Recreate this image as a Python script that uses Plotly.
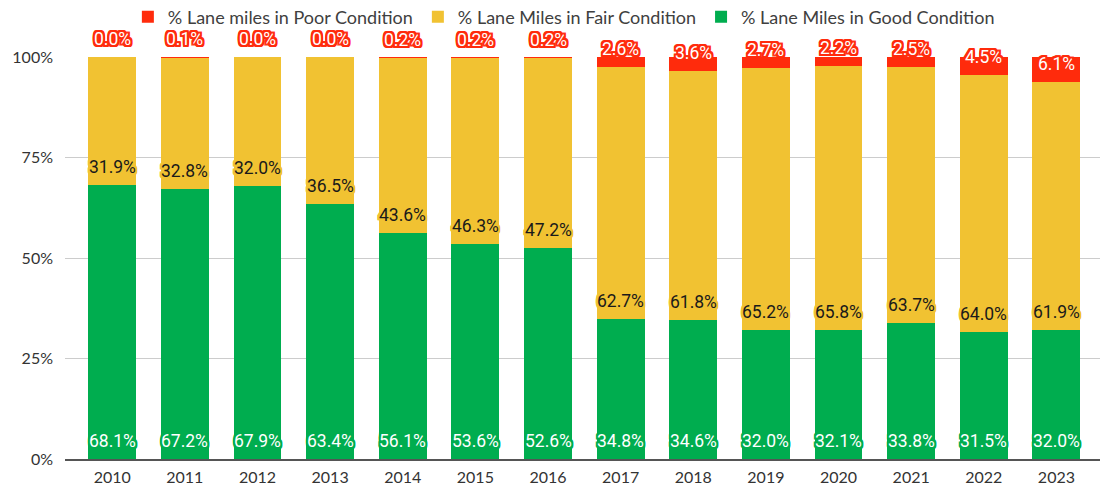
import numpy as np
import plotly.graph_objects as go

years = ["2010", "2011", "2012", "2013", "2014", "2015", "2016",
         "2017", "2018", "2019", "2020", "2021", "2022", "2023"]
good = [68.1, 67.2, 67.9, 63.4, 56.1, 53.6, 52.6, 34.8, 34.6, 32.0, 32.1, 33.8, 31.5, 32.0]
fair = [31.9, 32.8, 32.0, 36.5, 43.6, 46.3, 47.2, 62.7, 61.8, 65.2, 65.8, 63.7, 64.0, 61.9]
poor = [0.0, 0.1, 0.0, 0.0, 0.2, 0.2, 0.2, 2.6, 3.6, 2.7, 2.2, 2.5, 4.5, 6.1]

GREEN = "#00AD4F"
YELLOW = "#F1C232"
RED = "#FF2B0C"


def halo(c, w=2):
    # fake text outline with stacked css shadows
    parts = []
    for dx in range(-w, w + 1):
        for dy in range(-w, w + 1):
            if dx or dy:
                parts.append(f"{dx}px {dy}px 0 {c}")
    return ", ".join(parts)


fig = go.Figure()
for name, vals, col in [
    ("% Lane Miles in Good Condition", good, GREEN),
    ("% Lane Miles in Fair Condition", fair, YELLOW),
    ("% Lane miles in Poor Condition", poor, RED),
]:
    fig.add_trace(go.Bar(x=years, y=vals, name=name, marker_color=col,
                         marker_line_width=0, hoverinfo="skip"))

# labels sit at the base of each segment (normalised to 100%)
g = np.array(good)
f = np.array(fair)
p = np.array(poor)
tot = g + f + p
bases = [
    (np.zeros(len(g)), g, "white", GREEN),
    (g / tot * 100, f, "#1a1a1a", YELLOW),
    ((g + f) / tot * 100, p, "white", RED),
]
for base, vals, fc, hc in bases:
    for i, (b, v) in enumerate(zip(base, vals)):
        fig.add_annotation(
            x=i, y=float(b), text=f"{v:.1f}%", showarrow=False,
            yanchor="middle", yshift=18,
            font=dict(family="Roboto", size=17.5, color=fc, shadow=halo(hc)),
        )

fig.update_layout(
    barmode="stack",
    barnorm="percent",
    bargap=0.34,
    width=1104,
    height=487,
    margin=dict(l=65, r=4, t=57, b=28),
    plot_bgcolor="white",
    paper_bgcolor="white",
    font=dict(family="Lato", color="#333333"),
    legend=dict(
        orientation="h", traceorder="reversed",
        x=0.482, xanchor="center", yref="container", y=0.965, yanchor="middle",
        font=dict(size=18, color="#404040"),
        itemwidth=30,
    ),
)
fig.update_xaxes(
    range=[-0.65, 13.6],
    automargin=False,
    showgrid=False,
    showline=True, linecolor="#555555", linewidth=1.5,
    tickfont=dict(size=16, color="#333333"),
    ticks="",
    ticklabelstandoff=3,
)
fig.update_yaxes(
    range=[0, 100],
    automargin=False,
    tickvals=[0, 25, 50, 75, 100],
    ticktext=["0%", "25%", "50%", "75%", "100%"],
    showgrid=True, gridcolor="#CCCCCC", gridwidth=1,
    zeroline=False,
    tickfont=dict(size=16, color="#333333"),
    ticklabelstandoff=11,
)

# page has a default 8px body margin, drop it so the chart sits at 0,0
fig.write_html("out.html", config={"displayModeBar": False},
               post_script="document.body.style.margin='0';")
